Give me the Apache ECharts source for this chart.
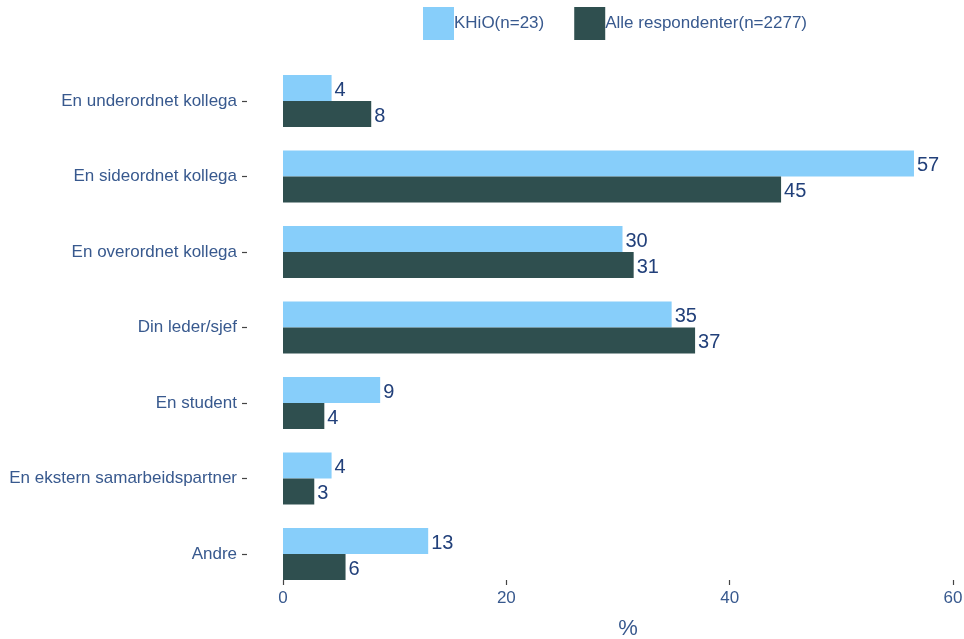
<!DOCTYPE html>
<html>
<head>
<meta charset="utf-8">
<script src="https://cdn.jsdelivr.net/npm/echarts@6/dist/echarts.min.js"></script>
<style>
html,body{margin:0;padding:0;background:#fff;}
#c{width:964px;height:639px;}
</style>
</head>
<body>
<div id="c"></div>
<script>
var categories = ["En underordnet kollega","En sideordnet kollega","En overordnet kollega","Din leder/sjef","En student","En ekstern samarbeidspartner","Andre"];
var khioValues = [4.35, 56.5, 30.4, 34.8, 8.7, 4.35, 13.0];
var alleValues = [7.9, 44.6, 31.4, 36.9, 3.7, 2.8, 5.6];
var seriesNames = ["KHiO(n=23)", "Alle respondenter(n=2277)"];
var xTicks = [0, 20, 40, 60];

var labelColor = '#22407a';
var axisColor = '#38598e';
var font = 'Liberation Sans, Arial, sans-serif';

var chart = echarts.init(document.getElementById('c'));
function lab() {
  return {
    show: true, position: 'right', distance: 3, offset: [0, 2],
    color: labelColor, fontSize: 20, fontFamily: font,
    formatter: function (p) { return Math.round(p.value); }
  };
}
chart.setOption({
  animation: false,
  backgroundColor: '#ffffff',
  legend: {
    left: 418, top: 2, itemWidth: 31, itemHeight: 33, itemGap: 30,
    icon: 'rect',
    textStyle: { color: axisColor, fontSize: 17, fontFamily: font, padding: [0, 0, 0, -5] },
    data: seriesNames
  },
  grid: { left: 247, width: 761.9, top: 63.25, height: 528.5, containLabel: false, outerBoundsMode: 'none' },
  xAxis: {
    type: 'value', min: -3.224, max: 65,
    offset: -11.75,
    name: '%', nameLocation: 'middle', nameGap: 38,
    nameTextStyle: { color: axisColor, fontSize: 22, fontFamily: font },
    axisLine: { show: false, onZero: false },
    axisTick: { show: true, customValues: xTicks, length: 5, lineStyle: { color: '#444', width: 1.2 } },
    axisLabel: { color: axisColor, fontSize: 17, fontFamily: font, margin: 10, customValues: xTicks },
    splitLine: { show: false }
  },
  yAxis: {
    type: 'category', data: categories, inverse: true,
    axisLine: { show: false, onZero: false },
    axisTick: { show: true, alignWithLabel: true, length: 5, lineStyle: { color: '#444', width: 1.2 } },
    axisLabel: { color: axisColor, fontSize: 17, fontFamily: font, margin: 10 }
  },
  series: [
    { name: seriesNames[0], type: 'bar', data: khioValues, barWidth: 26, barGap: '0%',
      itemStyle: { color: '#87CEFA' }, label: lab() },
    { name: seriesNames[1], type: 'bar', data: alleValues, barWidth: 26, barGap: '0%',
      itemStyle: { color: '#2F4F4F' }, label: lab() }
  ]
});
</script>
</body>
</html>
